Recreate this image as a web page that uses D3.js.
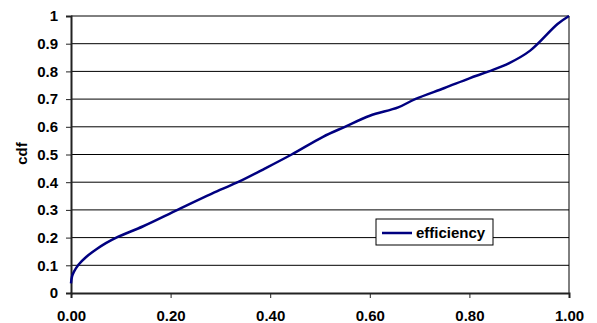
<!DOCTYPE html>
<html>
<head>
<meta charset="utf-8">
<script src="https://cdn.jsdelivr.net/npm/d3@7"></script>
<style>
  html, body { margin: 0; padding: 0; background: #fff; }
  svg { display: block; }
  text { font-family: Arial, "Liberation Sans", sans-serif; font-weight: bold; fill: #000; }
</style>
</head>
<body>
<svg id="chart" width="597" height="323"></svg>
<script>
// efficiency values (x) and cumulative fraction (cdf)
const efficiency = [0, 0.002, 0.006, 0.015, 0.031, 0.051, 0.07, 0.092, 0.145, 0.216, 0.299, 0.335, 0.39, 0.443, 0.506, 0.55, 0.60, 0.657, 0.691, 0.75, 0.80, 0.839, 0.88, 0.922, 0.977, 1.0];
const cdf        = [0.035, 0.059, 0.077, 0.102, 0.131, 0.158, 0.18, 0.201, 0.241, 0.302, 0.372, 0.40, 0.45, 0.50, 0.564, 0.60, 0.64, 0.67, 0.70, 0.74, 0.775, 0.80, 0.83, 0.875, 0.971, 1.0];
const xTicks = [0, 0.2, 0.4, 0.6, 0.8, 1.0];
const yTicks = [0, 0.1, 0.2, 0.3, 0.4, 0.5, 0.6, 0.7, 0.8, 0.9, 1];
const seriesName = "efficiency";
const yTitle = "cdf";

const svg = d3.select("#chart");
const m = { left: 71, right: 569, top: 16, bottom: 293 };
const fontSize = 15;

const x = d3.scaleLinear().domain([0, 1]).range([m.left, m.right]);
const y = d3.scaleLinear().domain([0, 1]).range([m.bottom, m.top]);

// horizontal gridlines
svg.append("g")
  .selectAll("line")
  .data(yTicks.filter(d => d > 0))
  .join("line")
  .attr("x1", m.left).attr("x2", m.right)
  .attr("y1", d => y(d)).attr("y2", d => y(d))
  .attr("stroke", "#000").attr("stroke-width", 1);

// right border of plot area
svg.append("line")
  .attr("x1", m.right).attr("x2", m.right)
  .attr("y1", m.top).attr("y2", m.bottom)
  .attr("stroke", "#000").attr("stroke-width", 1);

// y axis
const yAxis = svg.append("g")
  .attr("transform", `translate(${m.left},0)`)
  .call(d3.axisLeft(y).tickValues(yTicks).tickFormat(d => d === 0 ? "0" : d === 1 ? "1" : d3.format(".1f")(d)).tickSize(5).tickPadding(8));
yAxis.select(".domain").attr("stroke", "#222").attr("stroke-width", 2);
yAxis.selectAll(".tick line").attr("stroke", "#222");
yAxis.selectAll("text").attr("font-size", fontSize).attr("font-family", "Arial, 'Liberation Sans', sans-serif").attr("font-weight", "bold").attr("fill", "#000");

// x axis
const xAxis = svg.append("g")
  .attr("transform", `translate(0,${m.bottom})`)
  .call(d3.axisBottom(x).tickValues(xTicks).tickFormat(d3.format(".2f")).tickSize(5).tickPadding(12));
xAxis.select(".domain").attr("stroke", "#222").attr("stroke-width", 2);
xAxis.selectAll(".tick line").attr("stroke", "#222");
xAxis.selectAll("text").attr("font-size", fontSize).attr("font-family", "Arial, 'Liberation Sans', sans-serif").attr("font-weight", "bold").attr("fill", "#000");

// y axis title
svg.append("text")
  .attr("transform", `translate(27,${(m.top + m.bottom) / 2 - 1}) rotate(-90)`)
  .attr("text-anchor", "middle")
  .attr("font-size", fontSize)
  .text(yTitle);

// cdf curve
const pts = efficiency.map((v, i) => [v, cdf[i]]);
svg.append("path")
  .datum(pts)
  .attr("fill", "none")
  .attr("stroke", "#000080")
  .attr("stroke-width", 2.5)
  .attr("stroke-linejoin", "round")
  .attr("d", d3.line().x(d => x(d[0])).y(d => y(d[1])).curve(d3.curveCatmullRom.alpha(0.5)));

// legend
const lg = svg.append("g").attr("transform", "translate(376,219)");
lg.append("rect").attr("width", 117).attr("height", 26)
  .attr("fill", "#fff").attr("stroke", "#000").attr("stroke-width", 1);
lg.append("line").attr("x1", 6).attr("x2", 36).attr("y1", 14).attr("y2", 14)
  .attr("stroke", "#000080").attr("stroke-width", 2.5);
lg.append("text").attr("x", 40).attr("y", 19).attr("font-size", fontSize).text(seriesName);
</script>
</body>
</html>
